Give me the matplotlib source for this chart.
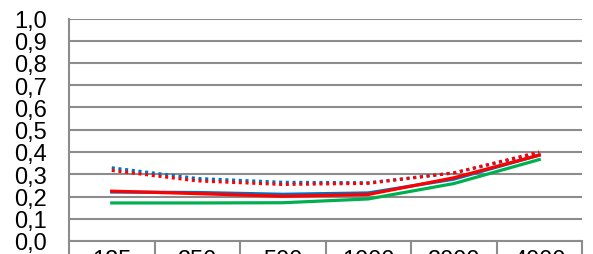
import numpy as np
import matplotlib.pyplot as plt

# Octave band centre frequencies (Hz)
freqs = ['125', '250', '500', '1000', '2000', '4000']

# Absorption-type coefficients
blue_solid = [0.220, 0.218, 0.210, 0.216, 0.278, 0.386]
red_solid = [0.224, 0.213, 0.201, 0.209, 0.284, 0.386]
green_solid = [0.171, 0.171, 0.172, 0.189, 0.258, 0.366]
blue_dotted = [0.329, 0.281, 0.264, 0.262, 0.306, 0.395]
red_dotted = [0.317, 0.270, 0.254, 0.259, 0.306, 0.400]

yticks = np.arange(0, 1.01, 0.1)
ylabels = [f'{v:.1f}'.replace('.', ',') for v in yticks]

plt.rcParams['font.family'] = ['Liberation Sans', 'DejaVu Sans']

fig = plt.figure(figsize=(5.93, 2.55), dpi=100)
ax = fig.add_axes([69 / 593, 13 / 255, 513 / 593, 222.5 / 255])

x = np.arange(len(freqs))
ax.plot(x, blue_dotted, color='#0070C0', lw=2.2, ls=(0, (1, 1.2)), zorder=3)
ax.plot(x, red_dotted, color='#FF0000', lw=2.2, ls=(0, (1, 1.2)), zorder=3)
ax.plot(x, blue_solid, color='#0070C0', lw=2.3, zorder=4)
ax.plot(x, green_solid, color='#00B050', lw=2.3, zorder=4)
ax.plot(x, red_solid, color='#FF0000', lw=2.3, zorder=5)

ax.set_xlim(-0.5, len(freqs) - 0.5)
ax.set_ylim(0, 1.0)

grid_col = '#8c8c8c'
ax.set_yticks(yticks)
ax.set_yticklabels(ylabels, fontsize=17)
ax.tick_params(axis='y', length=0, pad=16)
ax.yaxis.grid(True, color=grid_col, lw=1.5)
ax.set_axisbelow(True)

# category boundaries as long ticks, labels at centres
ax.set_xticks(np.arange(-0.5, len(freqs), 1.0))
ax.set_xticklabels([])
ax.tick_params(axis='x', which='major', length=20, width=1.5, color=grid_col)
ax.set_xticks(x, minor=True)
ax.set_xticklabels(freqs, minor=True, fontsize=17)
ax.tick_params(axis='x', which='minor', length=0, pad=6)

for s in ['top', 'right']:
    ax.spines[s].set_visible(False)
for s in ['left', 'bottom']:
    ax.spines[s].set_color(grid_col)
    ax.spines[s].set_linewidth(1.5)

fig.savefig('out.png', dpi=100)
